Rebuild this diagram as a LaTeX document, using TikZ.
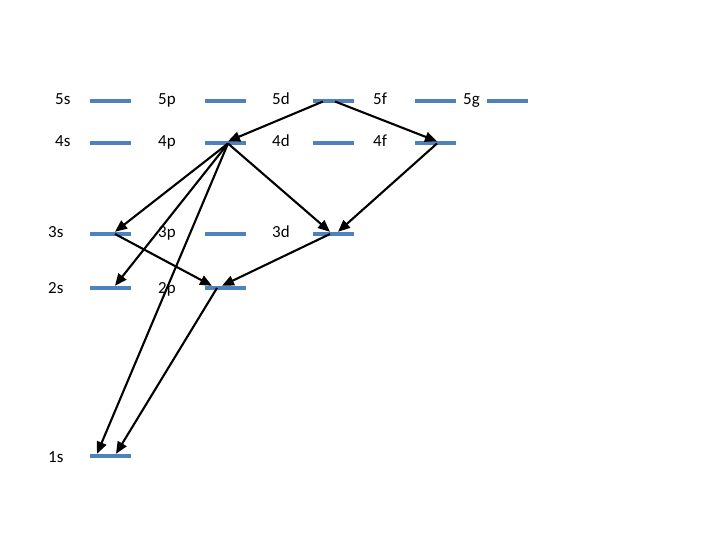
\documentclass[tikz,border=0pt]{standalone}
\usepackage{fontspec}
\setmainfont{Carlito}
\usetikzlibrary{arrows.meta}
\definecolor{shellblue}{RGB}{79,129,189}
\tikzset{
  shell/.style={fill=shellblue, inner sep=0pt, minimum width=41bp, minimum height=4bp},
  lbl/.style={anchor=base west, inner sep=0pt, font=\fontsize{17}{20}\selectfont},
  jump/.style={draw=black, line width=2.1bp, -{Triangle[length=12bp,width=10bp]}}
}
\begin{document}
\begin{tikzpicture}[x=1bp, y=-1bp]
  \useasboundingbox (0,0) rectangle (720,540);
  % columns of the levels
  \def\Xs{110};
  \def\Xp{225};
  \def\Xd{333};
  \def\Xf{435};
  \def\Xg{507};
  % rows of the levels
  \def\Yv{101.5};
  \def\Yiv{143.5};
  \def\Yiii{234};
  \def\Yii{288};
  \def\Yi{456};

        % levels, n = 5
        \node[shell] (o5s) at (\Xs, \Yv) {};
        \node[shell] (o5p) at (\Xp, \Yv) {};
        \node[shell] (o5d) at (\Xd, \Yv) {};
        \node[shell] (o5f) at (\Xf, \Yv) {};
        \node[shell] (o5g) at (\Xg, \Yv) {};
        % levels, n = 4
        \node[shell] (o4s) at (\Xs, \Yiv) {};
        \node[shell] (o4p) at (\Xp, \Yiv) {};
        \node[shell] (o4d) at (\Xd, \Yiv) {};
        \node[shell] (o4f) at (\Xf, \Yiv) {};
        % levels, n = 3, 2, 1
        \node[shell] (o3s) at (\Xs, \Yiii) {};
        \node[shell] (o3p) at (\Xp, \Yiii) {};
        \node[shell] (o3d) at (\Xd, \Yiii) {};
        \node[shell] (o2s) at (\Xs, \Yii) {};
        \node[shell] (o2p) at (\Xp, \Yii) {};
        \node[shell] (o1s) at (\Xs, \Yi) {};

        % labels
        \node[lbl] (l5s) at (55, 105) {5s};
        \node[lbl] (l5p) at (158, 105) {5p};
        \node[lbl] (l5d) at (272, 105) {5d};
        \node[lbl] (l5f) at (373, 105) {5f};
        \node[lbl] (l5g) at (463, 105) {5g};
        \node[lbl] (l4s) at (55, 147) {4s};
        \node[lbl] (l4p) at (158, 147) {4p};
        \node[lbl] (l4d) at (272, 147) {4d};
        \node[lbl] (l4f) at (373, 147) {4f};
        \node[lbl] (l3s) at (48, 238) {3s};
        \node[lbl] (l3p) at (158, 238) {3p};
        \node[lbl] (l3d) at (272, 238) {3d};
        \node[lbl] (l2s) at (48, 293) {2s};
        \node[lbl] (l2p) at (158, 293) {2p};
        \node[lbl] (l1s) at (48, 462) {1s};

	% transitions
	\draw[jump] ([xshift=-10bp]o5d.center) -- ([xshift=3bp]o4p.north);
	\draw[jump] ([xshift=2bp]o5d.center) -- ([xshift=2bp]o4f.north);
	\draw[jump] ([xshift=2bp]o4f.center) -- ([xshift=5bp]o3d.north);
	\draw[jump] ([xshift=3bp]o4p.center) -- ([xshift=-3bp]o3d.north);
	\draw[jump] ([xshift=3bp]o4p.center) -- ([xshift=5bp]o3s.north);
	\draw[jump] ([xshift=3bp]o4p.center) -- ([xshift=5bp]o2s.north);
	\draw[jump] ([xshift=3bp]o4p.center) -- ([xshift=-13bp]o1s.north);
	\draw[jump] ([xshift=5bp]o3s.center) -- ([xshift=-13bp]o2p.north);
	\draw[jump] ([xshift=-3bp]o3d.center) -- ([xshift=-3bp]o2p.north);
	\draw[jump] ([xshift=-8bp]o2p.center) -- ([xshift=6bp]o1s.north);
\end{tikzpicture}
\end{document}
